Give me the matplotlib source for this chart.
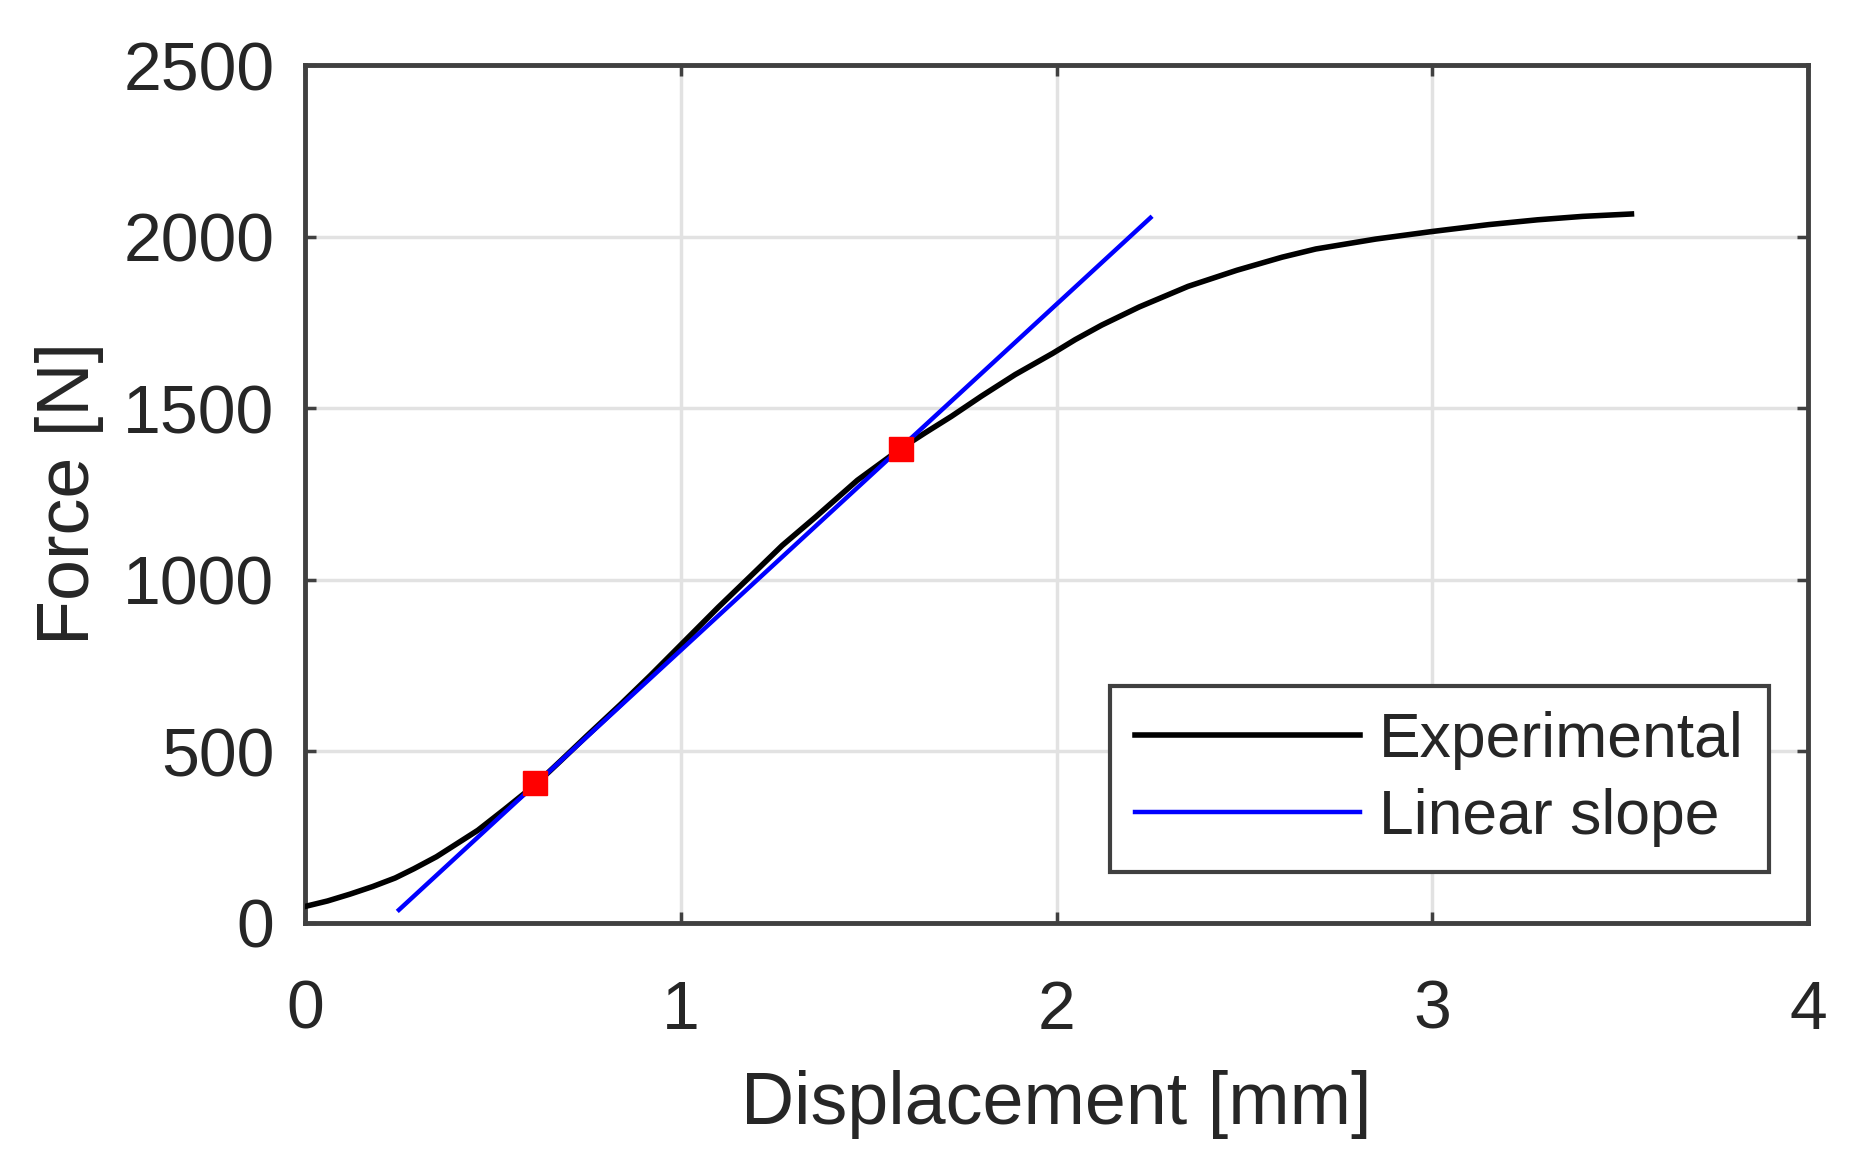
import matplotlib.pyplot as plt

# experimental force-displacement curve
exp_x = [0.0, 0.06, 0.12, 0.18, 0.24, 0.29, 0.35, 0.40, 0.46, 0.53, 0.615,
         0.68, 0.75, 0.84, 0.92, 1.0, 1.1, 1.19, 1.27, 1.36, 1.47, 1.585,
         1.65, 1.72, 1.8, 1.89, 1.99, 2.05, 2.12, 2.22, 2.35, 2.48, 2.6,
         2.69, 2.85, 3.0, 3.15, 3.28, 3.4, 3.53]
exp_y = [48, 64, 84, 106, 131, 158, 193, 228, 270, 330, 405,
         472, 545, 637, 722, 810, 920, 1015, 1100, 1184, 1290, 1382,
         1428, 1476, 1535, 1598, 1660, 1700, 1742, 1795, 1855, 1902, 1940,
         1964, 1993, 2015, 2035, 2049, 2059, 2066]

# linear slope line and the two fit points
slope_x = [0.25, 2.25]
slope_y = [38, 2055]
pts_x = [0.613, 1.586]
pts_y = [407, 1382]

xticks = [0, 1, 2, 3, 4]
yticks = [0, 500, 1000, 1500, 2000, 2500]

plt.rcParams['font.family'] = ['Liberation Sans', 'DejaVu Sans']
txt = '#262626'

fig = plt.figure(figsize=(18.55, 11.72), dpi=100)
ax = fig.add_axes([0.1644, 0.2125, 0.8103, 0.732])

ax.plot(exp_x, exp_y, color='black', lw=4, label='Experimental', zorder=3)
ax.plot(slope_x, slope_y, color='#0000ff', lw=3.2, label='Linear slope', zorder=4)
ax.plot(pts_x, pts_y, 's', color='red', ms=17, mec='red', zorder=5)

ax.set_xlim(0, 4)
ax.set_ylim(0, 2500)
ax.set_xticks(xticks)
ax.set_yticks(yticks)
ax.grid(True, color='#e2e2e2', lw=2.5)
ax.set_axisbelow(True)

for s in ax.spines.values():
    s.set_color('#404040')
    s.set_linewidth(3.5)
ax.tick_params(direction='in', length=8, width=2.5, color='#404040',
               top=True, right=True, labelsize=49, labelcolor=txt)
ax.tick_params(axis='x', pad=40)
ax.tick_params(axis='y', pad=22)

ax.set_xlabel('Displacement [mm]', fontsize=53, color=txt, labelpad=20)
ax.set_ylabel('Force [N]', fontsize=53, color=txt, labelpad=14)

leg = ax.legend(loc='lower right', bbox_to_anchor=(0.974, 0.059),
                fontsize=45, handlelength=3.6, handletextpad=0.3,
                borderaxespad=0, borderpad=0.4, labelspacing=0.3,
                fancybox=False, framealpha=1)
leg.get_frame().set_edgecolor('#404040')
leg.get_frame().set_linewidth(3)
for t in leg.get_texts():
    t.set_color(txt)

fig.savefig('out.png', dpi=100, facecolor='white')
